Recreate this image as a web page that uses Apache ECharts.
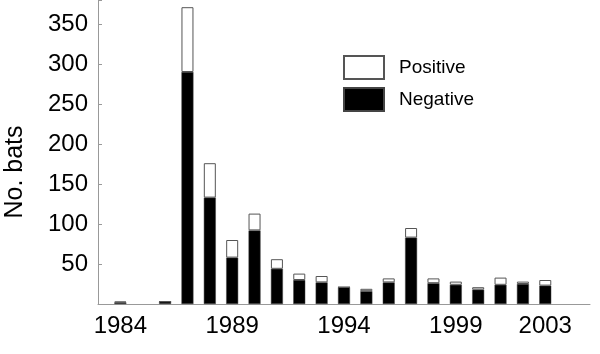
<!DOCTYPE html>
<html>
<head>
<meta charset="utf-8">
<script src="https://cdn.jsdelivr.net/npm/echarts@6/dist/echarts.min.js"></script>
<style>html,body{margin:0;padding:0;background:#fff}#c{width:600px;height:354px}</style>
</head>
<body>
<div id="c"></div>
<script>
const years = ['1983','1984','1985','1986','1987','1988','1989','1990','1991','1992','1993','1994','1995','1996','1997','1998','1999','2000','2001','2002','2003','2004','2005'];
const negative = [null,2,null,3,290,133,58,92,44,30,27,21,16,27,83,26,24,18,24,25,23,null,null];
const positive = [null,1,null,0,81,43,22,21,12,8,8,0,3,5,12,6,4,3,9,3,7,null,null];
const shownYears = ['1984','1989','1994','1999','2003'];
const yTicks = [50,100,150,200,250,300,350];

const chart = echarts.init(document.getElementById('c'));
const font = 'Liberation Sans, Arial, sans-serif';
chart.setOption({
  animation: false,
  textStyle: {fontFamily: font},
  grid: {left: 98, right: 10, top: 0, bottom: 50},
  legend: {
    orient: 'vertical', left: 338, top: 50,
    itemWidth: 40, itemHeight: 23, itemGap: 7,
    icon: 'rect',
    data: ['Positive','Negative'],
    textStyle: {fontSize: 19, color: '#000', fontFamily: font, padding: [0,0,0,10]}
  },
  xAxis: {
    type: 'category', data: years, boundaryGap: false,
    axisLine: {lineStyle: {color: '#999', width: 1}},
    axisTick: {show: false},
    axisLabel: {
      interval: (i, v) => shownYears.includes(v),
      fontSize: 24, color: '#000', margin: 10, fontFamily: font
    }
  },
  yAxis: {
    type: 'value', min: 0, max: 380, interval: 50,
    splitLine: {show: false},
    axisLine: {show: true, lineStyle: {color: '#999', width: 1}},
    axisTick: {show: true, inside: true, length: 4, lineStyle: {color: '#999'}},
    axisLabel: {
      fontSize: 24, color: '#000', margin: 10, fontFamily: font,
      formatter: v => yTicks.includes(v) ? String(v) : ''
    }
  },
  graphic: [{
    type: 'text', x: 15, y: 172, rotation: Math.PI/2,
    style: {text: 'No. bats', font: '25px ' + font, fill: '#000', align: 'center', verticalAlign: 'middle'}
  }],
  series: [
    {name: 'Negative', type: 'bar', stack: 's', data: negative, barWidth: 12,
     itemStyle: {color: '#000', borderColor: '#444', borderWidth: 0.5}},
    {name: 'Positive', type: 'bar', stack: 's', data: positive, barWidth: 12,
     itemStyle: {color: '#fff', borderColor: '#555', borderWidth: 1}}
  ]
});
</script>
</body>
</html>
